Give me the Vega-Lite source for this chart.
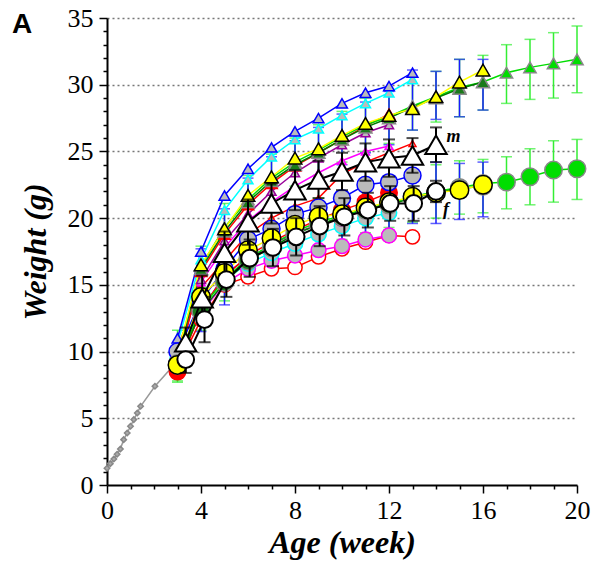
{
"$schema":"https://vega.github.io/schema/vega-lite/v6.json",
"width":470,"height":467,
"autosize":{"type":"none"},
"padding":{"left":107,"top":18,"right":15,"bottom":86},
"background":"white",
"title":{"text":"A","anchor":"start","frame":"group","font":"Liberation Sans","fontSize":28,"fontWeight":"bold","color":"black","dx":-95,"dy":56,"offset":0,"baseline":"alphabetic"},
"config":{"view":{"stroke":null},"font":"Liberation Serif","axis":{"labelFont":"Liberation Serif","titleFont":"Liberation Serif"}},
"datasets":{
"pts":[
{"s":"Neo","w":0,"g":1.25},{"s":"Neo","w":0.14,"g":1.6},{"s":"Neo","w":0.29,"g":1.95},{"s":"Neo","w":0.43,"g":2.3},{"s":"Neo","w":0.57,"g":2.7},{"s":"Neo","w":0.71,"g":3.4},{"s":"Neo","w":0.86,"g":3.9},{"s":"Neo","w":1.0,"g":4.4},{"s":"Neo","w":1.14,"g":4.9},{"s":"Neo","w":1.29,"g":5.4},{"s":"Neo","w":1.43,"g":5.9},{"s":"Neo","w":2.04,"g":7.4},{"s":"Neo","w":3.0,"g":9.3},
{"s":"M_ro","w":3,"g":10.3},{"s":"M_ro","w":4,"g":14.8},{"s":"M_ro","w":5,"g":16.8},{"s":"M_ro","w":6,"g":18.8},{"s":"M_ro","w":7,"g":20.0},{"s":"M_ro","w":8,"g":20.9},{"s":"M_ro","w":9,"g":21.5},{"s":"M_ro","w":10,"g":23.3},{"s":"M_ro","w":11,"g":24.2},{"s":"M_ro","w":12,"g":24.9},{"s":"M_ro","w":13,"g":25.6},
{"s":"M_mag","w":3,"g":10.0},{"s":"M_mag","w":4,"g":15.2},{"s":"M_mag","w":5,"g":17.8},{"s":"M_mag","w":6,"g":19.8},{"s":"M_mag","w":7,"g":21.2},{"s":"M_mag","w":8,"g":22.4},{"s":"M_mag","w":9,"g":23.4},{"s":"M_mag","w":10,"g":24.3},{"s":"M_mag","w":11,"g":25.0},{"s":"M_mag","w":12,"g":25.4},
{"s":"M_pur","w":3,"g":9.5},{"s":"M_pur","w":4,"g":15.4},{"s":"M_pur","w":5,"g":18.3},{"s":"M_pur","w":6,"g":20.3},{"s":"M_pur","w":7,"g":22.0},{"s":"M_pur","w":8,"g":23.4},{"s":"M_pur","w":9,"g":24.5},{"s":"M_pur","w":10,"g":25.5},{"s":"M_pur","w":11,"g":26.4},{"s":"M_pur","w":12,"g":27.0},
{"s":"M_cy","w":3,"g":10.6},{"s":"M_cy","w":4,"g":16.9},{"s":"M_cy","w":5,"g":20.6},{"s":"M_cy","w":6,"g":22.9},{"s":"M_cy","w":7,"g":24.6},{"s":"M_cy","w":8,"g":25.9},{"s":"M_cy","w":9,"g":26.7},{"s":"M_cy","w":10,"g":27.7},{"s":"M_cy","w":11,"g":28.6},{"s":"M_cy","w":12,"g":29.4},{"s":"M_cy","w":13,"g":30.4},
{"s":"M_bl","w":3,"g":11.0},{"s":"M_bl","w":4,"g":17.5},{"s":"M_bl","w":5,"g":21.7},{"s":"M_bl","w":6,"g":23.7},{"s":"M_bl","w":7,"g":25.3},{"s":"M_bl","w":8,"g":26.5},{"s":"M_bl","w":9,"g":27.5},{"s":"M_bl","w":10,"g":28.6},{"s":"M_bl","w":11,"g":29.4},{"s":"M_bl","w":12,"g":29.9},{"s":"M_bl","w":13,"g":30.9},
{"s":"M_red","w":3,"g":8.8},{"s":"M_red","w":4,"g":16.0},{"s":"M_red","w":5,"g":18.8},{"s":"M_red","w":6,"g":21.0},{"s":"M_red","w":7,"g":22.6},{"s":"M_red","w":8,"g":23.9},{"s":"M_red","w":9,"g":24.9},{"s":"M_red","w":10,"g":25.9},{"s":"M_red","w":11,"g":26.9},{"s":"M_red","w":12,"g":27.8},
{"s":"M_gb","w":3,"g":9.7},{"s":"M_gb","w":4,"g":16.4},{"s":"M_gb","w":5,"g":19.3},{"s":"M_gb","w":6,"g":21.4},{"s":"M_gb","w":7,"g":23.0},{"s":"M_gb","w":8,"g":24.2},{"s":"M_gb","w":9,"g":25.1},{"s":"M_gb","w":10,"g":26.1},{"s":"M_gb","w":11,"g":27.0},{"s":"M_gb","w":12,"g":27.6},{"s":"M_gb","w":13,"g":28.4},{"s":"M_gb","w":14,"g":29.1},{"s":"M_gb","w":15,"g":29.8},{"s":"M_gb","w":16,"g":30.2},{"s":"M_gb","w":17,"g":30.9},{"s":"M_gb","w":18,"g":31.3},{"s":"M_gb","w":19,"g":31.6},{"s":"M_gb","w":20,"g":31.9},
{"s":"M_gd","w":3,"g":9.5},{"s":"M_gd","w":4,"g":16.2},{"s":"M_gd","w":5,"g":19.0},{"s":"M_gd","w":6,"g":21.2},{"s":"M_gd","w":7,"g":22.8},{"s":"M_gd","w":8,"g":24.0},{"s":"M_gd","w":9,"g":24.9},{"s":"M_gd","w":10,"g":25.9},{"s":"M_gd","w":11,"g":26.8},{"s":"M_gd","w":12,"g":27.5},{"s":"M_gd","w":13,"g":28.3},{"s":"M_gd","w":14,"g":29.0},{"s":"M_gd","w":15,"g":29.7},{"s":"M_gd","w":16,"g":30.2},
{"s":"M_ye","w":3,"g":9.8},{"s":"M_ye","w":4,"g":16.5},{"s":"M_ye","w":5,"g":19.2},{"s":"M_ye","w":6,"g":21.7},{"s":"M_ye","w":7,"g":23.1},{"s":"M_ye","w":8,"g":24.5},{"s":"M_ye","w":9,"g":25.2},{"s":"M_ye","w":10,"g":26.2},{"s":"M_ye","w":11,"g":27.1},{"s":"M_ye","w":12,"g":27.7},{"s":"M_ye","w":13,"g":28.2},{"s":"M_ye","w":14,"g":29.1},{"s":"M_ye","w":15,"g":30.2},{"s":"M_ye","w":16,"g":31.1},
{"s":"F_ro","w":3,"g":8.8},{"s":"F_ro","w":4,"g":12.4},{"s":"F_ro","w":5,"g":15.0},{"s":"F_ro","w":6,"g":15.6},{"s":"F_ro","w":7,"g":16.2},{"s":"F_ro","w":8,"g":16.3},{"s":"F_ro","w":9,"g":17.1},{"s":"F_ro","w":10,"g":17.7},{"s":"F_ro","w":11,"g":18.2},{"s":"F_ro","w":12,"g":18.7},{"s":"F_ro","w":13,"g":18.6},
{"s":"F_mag","w":3,"g":9.2},{"s":"F_mag","w":4,"g":12.9},{"s":"F_mag","w":5,"g":15.1},{"s":"F_mag","w":6,"g":16.2},{"s":"F_mag","w":7,"g":16.8},{"s":"F_mag","w":8,"g":17.2},{"s":"F_mag","w":9,"g":17.6},{"s":"F_mag","w":10,"g":17.9},{"s":"F_mag","w":11,"g":18.4},{"s":"F_mag","w":12,"g":18.7},
{"s":"F_cy","w":3,"g":9.4},{"s":"F_cy","w":4,"g":13.4},{"s":"F_cy","w":5,"g":15.4},{"s":"F_cy","w":6,"g":16.6},{"s":"F_cy","w":7,"g":17.4},{"s":"F_cy","w":8,"g":18.1},{"s":"F_cy","w":9,"g":18.8},{"s":"F_cy","w":10,"g":19.4},{"s":"F_cy","w":11,"g":20.0},{"s":"F_cy","w":12,"g":20.4},
{"s":"F_pur","w":3,"g":9.0},{"s":"F_pur","w":4,"g":13.0},{"s":"F_pur","w":5,"g":15.8},{"s":"F_pur","w":6,"g":17.0},{"s":"F_pur","w":7,"g":18.0},{"s":"F_pur","w":8,"g":18.9},{"s":"F_pur","w":9,"g":19.5},{"s":"F_pur","w":10,"g":20.0},{"s":"F_pur","w":11,"g":20.6},{"s":"F_pur","w":12,"g":21.0},
{"s":"F_red","w":3,"g":8.5},{"s":"F_red","w":4,"g":13.2},{"s":"F_red","w":5,"g":15.6},{"s":"F_red","w":6,"g":17.2},{"s":"F_red","w":7,"g":18.2},{"s":"F_red","w":8,"g":19.1},{"s":"F_red","w":9,"g":19.9},{"s":"F_red","w":10,"g":20.6},{"s":"F_red","w":11,"g":21.2},{"s":"F_red","w":12,"g":21.9},
{"s":"F_bl","w":3,"g":10.0},{"s":"F_bl","w":4,"g":13.8},{"s":"F_bl","w":5,"g":16.2},{"s":"F_bl","w":6,"g":18.4},{"s":"F_bl","w":7,"g":19.2},{"s":"F_bl","w":8,"g":20.3},{"s":"F_bl","w":9,"g":20.8},{"s":"F_bl","w":10,"g":21.5},{"s":"F_bl","w":11,"g":22.5},{"s":"F_bl","w":12,"g":22.7},{"s":"F_bl","w":13,"g":23.2},
{"s":"F_gb","w":3,"g":9.1},{"s":"F_gb","w":4,"g":13.2},{"s":"F_gb","w":5,"g":15.4},{"s":"F_gb","w":6,"g":17.0},{"s":"F_gb","w":7,"g":18.0},{"s":"F_gb","w":8,"g":19.0},{"s":"F_gb","w":9,"g":19.7},{"s":"F_gb","w":10,"g":20.2},{"s":"F_gb","w":11,"g":20.7},{"s":"F_gb","w":12,"g":21.1},{"s":"F_gb","w":13,"g":21.6},{"s":"F_gb","w":14,"g":22.0},{"s":"F_gb","w":15,"g":22.3},{"s":"F_gb","w":16,"g":22.6},{"s":"F_gb","w":17,"g":22.7},{"s":"F_gb","w":18,"g":23.1},{"s":"F_gb","w":19,"g":23.6},{"s":"F_gb","w":20,"g":23.7},
{"s":"F_gd","w":3,"g":9.0},{"s":"F_gd","w":4,"g":13.0},{"s":"F_gd","w":5,"g":15.2},{"s":"F_gd","w":6,"g":16.8},{"s":"F_gd","w":7,"g":17.8},{"s":"F_gd","w":8,"g":18.8},{"s":"F_gd","w":9,"g":19.5},{"s":"F_gd","w":10,"g":20.1},{"s":"F_gd","w":11,"g":20.6},{"s":"F_gd","w":12,"g":21.0},{"s":"F_gd","w":13,"g":21.5},{"s":"F_gd","w":14,"g":21.9},{"s":"F_gd","w":15,"g":22.2},{"s":"F_gd","w":16,"g":22.4},
{"s":"F_ye","w":3,"g":9.0},{"s":"F_ye","w":4,"g":14.1},{"s":"F_ye","w":5,"g":15.9},{"s":"F_ye","w":6,"g":17.6},{"s":"F_ye","w":7,"g":18.5},{"s":"F_ye","w":8,"g":19.5},{"s":"F_ye","w":9,"g":20.1},{"s":"F_ye","w":10,"g":20.3},{"s":"F_ye","w":11,"g":20.8},{"s":"F_ye","w":12,"g":21.2},{"s":"F_ye","w":13,"g":21.6},{"s":"F_ye","w":14,"g":21.9},{"s":"F_ye","w":15,"g":22.1},{"s":"F_ye","w":16,"g":22.5}
],
"eb":[
{"s":"M_gb","w":3,"g":7.8,"hi":11.6},{"s":"M_gb","w":4,"g":14.8,"hi":17.9},{"s":"M_gb","w":5,"g":17.5,"hi":21.1},{"s":"M_gb","w":6,"g":19.6,"hi":23.2},{"s":"M_gb","w":7,"g":21.2,"hi":24.8},{"s":"M_gb","w":8,"g":22.4,"hi":26.0},{"s":"M_gb","w":9,"g":23.2,"hi":27.0},{"s":"M_gb","w":10,"g":24.2,"hi":28.0},{"s":"M_gb","w":11,"g":25.0,"hi":29.0},{"s":"M_gb","w":12,"g":25.6,"hi":29.6},{"s":"M_gb","w":13,"g":26.6,"hi":30.6},{"s":"M_gb","w":14,"g":27.2,"hi":31.0},{"s":"M_gb","w":15,"g":27.6,"hi":31.9},{"s":"M_gb","w":16,"g":28.1,"hi":32.2},{"s":"M_gb","w":17,"g":28.6,"hi":33.0},{"s":"M_gb","w":18,"g":28.9,"hi":33.4},{"s":"M_gb","w":19,"g":29.0,"hi":33.9},{"s":"M_gb","w":20,"g":29.4,"hi":34.4},
{"s":"F_gb","w":3,"g":7.7,"hi":10.5},{"s":"F_gb","w":4,"g":11.6,"hi":14.8},{"s":"F_gb","w":5,"g":13.8,"hi":17.0},{"s":"F_gb","w":6,"g":15.3,"hi":18.7},{"s":"F_gb","w":7,"g":16.3,"hi":19.7},{"s":"F_gb","w":8,"g":17.2,"hi":20.8},{"s":"F_gb","w":9,"g":17.9,"hi":21.5},{"s":"F_gb","w":10,"g":18.4,"hi":22.0},{"s":"F_gb","w":11,"g":18.9,"hi":22.5},{"s":"F_gb","w":12,"g":19.3,"hi":22.9},{"s":"F_gb","w":13,"g":19.7,"hi":23.5},{"s":"F_gb","w":14,"g":20.0,"hi":24.0},{"s":"F_gb","w":15,"g":20.3,"hi":24.3},{"s":"F_gb","w":16,"g":20.4,"hi":24.4},{"s":"F_gb","w":17,"g":20.7,"hi":24.6},{"s":"F_gb","w":18,"g":21.0,"hi":25.2},{"s":"F_gb","w":19,"g":21.2,"hi":25.8},{"s":"F_gb","w":20,"g":21.4,"hi":25.9},
{"s":"M_gd","w":3,"g":8.5,"hi":10.5},{"s":"M_gd","w":4,"g":14.7,"hi":17.7},{"s":"M_gd","w":5,"g":17.3,"hi":20.7},{"s":"M_gd","w":6,"g":19.4,"hi":23.0},{"s":"M_gd","w":7,"g":21.0,"hi":24.6},{"s":"M_gd","w":8,"g":22.2,"hi":25.8},{"s":"M_gd","w":9,"g":23.0,"hi":26.8},{"s":"M_gd","w":10,"g":24.0,"hi":27.8},{"s":"M_gd","w":11,"g":24.9,"hi":28.7},{"s":"M_gd","w":12,"g":25.5,"hi":29.5},{"s":"M_gd","w":13,"g":26.6,"hi":31.1},{"s":"M_gd","w":14,"g":27.4,"hi":31.0},{"s":"M_gd","w":15,"g":27.6,"hi":31.9},{"s":"M_gd","w":16,"g":28.1,"hi":31.9},
{"s":"F_gd","w":3,"g":8.0,"hi":10.0},{"s":"F_gd","w":4,"g":11.5,"hi":14.5},{"s":"F_gd","w":5,"g":13.5,"hi":16.9},{"s":"F_gd","w":6,"g":15.2,"hi":18.8},{"s":"F_gd","w":7,"g":16.1,"hi":19.5},{"s":"F_gd","w":8,"g":17.0,"hi":20.6},{"s":"F_gd","w":9,"g":17.7,"hi":21.3},{"s":"F_gd","w":10,"g":18.2,"hi":22.0},{"s":"F_gd","w":11,"g":18.7,"hi":22.5},{"s":"F_gd","w":12,"g":19.1,"hi":22.9},{"s":"F_gd","w":13,"g":19.6,"hi":23.4},{"s":"F_gd","w":14,"g":19.6,"hi":24.2},{"s":"F_gd","w":15,"g":19.9,"hi":24.1},{"s":"F_gd","w":16,"g":20.1,"hi":24.2}
],
"mean":[
{"s":"M","w":3.35,"g":10.7},{"s":"M","w":4.05,"g":14.0},{"s":"M","w":5,"g":17.4},{"s":"M","w":6,"g":19.7},{"s":"M","w":7,"g":21.1},{"s":"M","w":8,"g":22.1},{"s":"M","w":9,"g":22.9},{"s":"M","w":10,"g":23.5},{"s":"M","w":11,"g":24.2},{"s":"M","w":12,"g":24.5},{"s":"M","w":13,"g":24.7},{"s":"M","w":14,"g":25.5},
{"s":"F","w":3.35,"g":9.4},{"s":"F","w":4.15,"g":12.4},{"s":"F","w":5.08,"g":15.4},{"s":"F","w":6.07,"g":17.0},{"s":"F","w":7.06,"g":17.8},{"s":"F","w":8.05,"g":18.6},{"s":"F","w":9.05,"g":19.4},{"s":"F","w":10.1,"g":20.1},{"s":"F","w":11.1,"g":20.6},{"s":"F","w":12.05,"g":21.1},{"s":"F","w":13.05,"g":21.1},{"s":"F","w":14,"g":22.0}
],
"meb":[
{"s":"M","w":3.35,"g":9.6,"hi":11.8},{"s":"M","w":4.05,"g":12.3,"hi":15.7},{"s":"M","w":5,"g":15.8,"hi":19.0},{"s":"M","w":6,"g":18.0,"hi":21.4},{"s":"M","w":7,"g":19.6,"hi":22.6},{"s":"M","w":8,"g":20.6,"hi":23.6},{"s":"M","w":9,"g":21.5,"hi":24.3},{"s":"M","w":10,"g":22.1,"hi":24.9},{"s":"M","w":11,"g":22.8,"hi":25.6},{"s":"M","w":12,"g":23.1,"hi":25.9},{"s":"M","w":13,"g":23.4,"hi":26.0},{"s":"M","w":14,"g":24.2,"hi":26.8},
{"s":"F","w":3.35,"g":8.4,"hi":10.4},{"s":"F","w":4.15,"g":10.7,"hi":14.1},{"s":"F","w":5.08,"g":14.1,"hi":16.7},{"s":"F","w":6.07,"g":15.6,"hi":18.4},{"s":"F","w":7.06,"g":16.4,"hi":19.2},{"s":"F","w":8.05,"g":17.2,"hi":20.0},{"s":"F","w":9.05,"g":17.9,"hi":20.9},{"s":"F","w":10.1,"g":18.7,"hi":21.5},{"s":"F","w":11.1,"g":19.3,"hi":21.9},{"s":"F","w":12.05,"g":19.8,"hi":22.4},{"s":"F","w":13.05,"g":19.8,"hi":22.4},{"s":"F","w":14,"g":21.2,"hi":22.8}
],
"lab":[{"t":"m","w":14.45,"g":26.1},{"t":"f","w":14.3,"g":20.6}]
},
"encoding":{
 "x":{"field":"w","type":"quantitative","scale":{"domain":[0,20],"nice":false},
   "axis":{"title":"Age (week)","values":[0,1,2,3,4,5,6,7,8,9,10,11,12,13,14,15,16,17,18,19,20],
    "labelExpr":"datum.value % 4 === 0 ? datum.label : ''",
    "tickSize":{"condition":{"test":"datum.value % 4 === 0","value":8},"value":4},
    "grid":false,"domainColor":"black","domainWidth":2,"tickColor":"black","tickWidth":1.5,
    "labelFont":"Liberation Serif","labelFontSize":26,"labelColor":"black","labelPadding":4,"labelFlush":false,"labelOverlap":false,"labelBound":false,
    "titleFont":"Liberation Serif","titleFontSize":32,"titleFontWeight":"bold","titleFontStyle":"italic","titleColor":"black","titlePadding":4}},
 "y":{"field":"g","type":"quantitative","scale":{"domain":[0,35],"nice":false},
   "axis":{"title":"Weight (g)","values":[0,1,2,3,4,5,6,7,8,9,10,11,12,13,14,15,16,17,18,19,20,21,22,23,24,25,26,27,28,29,30,31,32,33,34,35],
    "labelExpr":"datum.value % 5 === 0 ? datum.label : ''",
    "tickSize":{"condition":{"test":"datum.value % 5 === 0","value":8},"value":4},
    "grid":true,"gridColor":"#777777","gridDash":[2,3],"gridWidth":1.3,
    "gridOpacity":{"condition":{"test":"datum.value % 5 === 0 && datum.value > 0","value":1},"value":0},
    "domainColor":"black","domainWidth":2,"tickColor":"black","tickWidth":1.5,
    "labelFont":"Liberation Serif","labelFontSize":26,"labelColor":"black","labelPadding":6,"labelOverlap":false,"labelBound":false,"labelFlush":false,
    "titleFont":"Liberation Serif","titleFontSize":32,"titleFontWeight":"bold","titleFontStyle":"italic","titleColor":"black","titlePadding":15}}
},
"layer":[
{"data":{"name":"eb"},
 "mark":{"type":"errorbar","ticks":{"size":11},"thickness":1.5},
 "encoding":{
  "y2":{"field":"hi"},
  "color":{"field":"s","type":"nominal","legend":null,"scale":{"domain":["M_gd","F_gd","M_gb","F_gb"],"range":["#1a1aff","#1a1aff","#33ee33","#33ee33"]}}
 }},
{"data":{"name":"pts"},
 "mark":{"type":"line","strokeWidth":1.5},
 "encoding":{
  "color":{"field":"s","type":"nominal","legend":null,"scale":{
   "domain":["Neo","M_ro","M_mag","M_pur","M_cy","M_bl","M_red","M_gb","M_gd","M_ye","F_ro","F_mag","F_cy","F_pur","F_red","F_bl","F_gb","F_gd","F_ye"],
   "range":["#999999","#ff0000","#ff00ff","#990099","#00ffff","#0000ff","#ff0000","#00dd00","#007a00","#ffff00","#ff0000","#ff00ff","#00ffff","#990099","#ff0000","#0000ff","#00dd00","#007a00","#ffff00"]}}
 }},
{"data":{"name":"pts"},
 "mark":{"type":"point","opacity":1,"strokeWidth":1.5},
 "encoding":{
  "shape":{"field":"s","type":"nominal","legend":null,"scale":{
   "domain":["Neo","M_ro","M_mag","M_pur","M_cy","M_bl","M_red","M_gb","M_gd","M_ye","F_ro","F_mag","F_cy","F_pur","F_red","F_bl","F_gb","F_gd","F_ye"],
   "range":["diamond","triangle-up","triangle-up","triangle-up","triangle-up","triangle-up","triangle-up","triangle-up","triangle-up","triangle-up","circle","circle","circle","circle","circle","circle","circle","circle","circle"]}},
  "size":{"field":"s","type":"nominal","legend":null,"scale":{
   "domain":["Neo","M_ro","M_mag","M_pur","M_cy","M_bl","M_red","M_gb","M_gd","M_ye","F_ro","F_mag","F_cy","F_pur","F_red","F_bl","F_gb","F_gd","F_ye"],
   "range":[30,340,340,340,340,340,340,340,340,340,190,190,190,190,190,190,190,190,190]}},
  "fill":{"field":"s","type":"nominal","legend":null,"scale":{
   "domain":["Neo","M_ro","M_mag","M_pur","M_cy","M_bl","M_red","M_gb","M_gd","M_ye","F_ro","F_mag","F_cy","F_pur","F_red","F_bl","F_gb","F_gd","F_ye"],
   "range":["#aaaaaa","#ffffff","#bbbbbb","#bbbbbb","#bbbbbb","#bbbbbb","#ff0000","#00dd00","#1a7a1a","#ffff00","#ffffff","#bbbbbb","#bbbbbb","#bbbbbb","#ff0000","#bbbbbb","#00dd00","#1a7a1a","#ffff00"]}},
  "stroke":{"field":"s","type":"nominal","legend":null,"scale":{
   "domain":["Neo","M_ro","M_mag","M_pur","M_cy","M_bl","M_red","M_gb","M_gd","M_ye","F_ro","F_mag","F_cy","F_pur","F_red","F_bl","F_gb","F_gd","F_ye"],
   "range":["#888888","#ff0000","#ff00ff","#990099","#00ffff","#0000ff","#ff0000","#888888","#888888","#000000","#ff0000","#ff00ff","#00ffff","#990099","#ff0000","#0000ff","#888888","#888888","#000000"]}}
 }},
{"data":{"name":"meb"},
 "mark":{"type":"errorbar","ticks":{"size":12},"thickness":2,"color":"black"},
 "encoding":{
  "y2":{"field":"hi"},
  "detail":{"field":"s","type":"nominal"}
 }},
{"data":{"name":"mean"},
 "mark":{"type":"line","strokeWidth":2,"color":"black"},
 "encoding":{
  "detail":{"field":"s","type":"nominal"}
 }},
{"data":{"name":"mean"},
 "transform":[{"filter":"datum.s === 'M'"}],
 "mark":{"type":"point","shape":"triangle-up","size":460,"filled":true,"fill":"white","stroke":"black","strokeWidth":2,"opacity":1}},
{"data":{"name":"mean"},
 "transform":[{"filter":"datum.s === 'F'"}],
 "mark":{"type":"point","shape":"circle","size":280,"filled":true,"fill":"white","stroke":"black","strokeWidth":2,"opacity":1}},
{"data":{"name":"lab"},
 "mark":{"type":"text","font":"Liberation Serif","fontSize":18,"fontWeight":"bold","fontStyle":"italic","color":"black","align":"left","baseline":"middle"},
 "encoding":{
  "text":{"field":"t"}
 }}
],
"resolve":{"scale":{"color":"independent"}}
}
